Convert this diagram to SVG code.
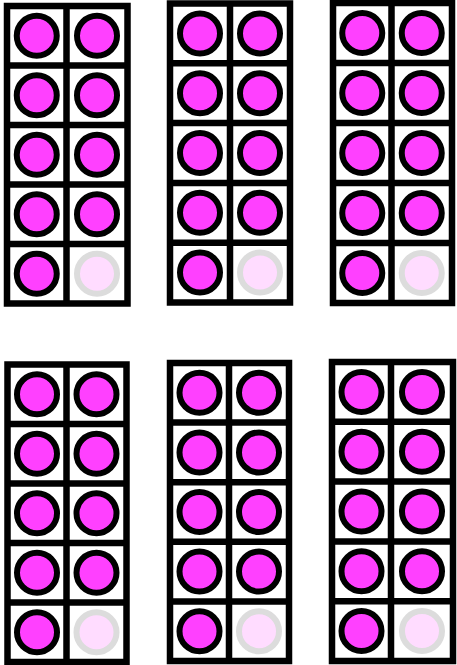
<svg xmlns="http://www.w3.org/2000/svg" width="457" height="665" viewBox="0 0 457 665">
<style>
.frame{fill:#ffffff;stroke:#000000;stroke-width:6.5}
.grid{stroke:#000000;stroke-width:6.5;fill:none}
.on{fill:#ff40ff;stroke:#000000;stroke-width:6}
.off{fill:#ffdcff;stroke:#dcdcdc;stroke-width:6}
circle{r:20px}
</style>
<rect width="457" height="665" fill="#ffffff"/>
<g id="frame1">
<rect class="frame" x="7" y="6" width="120.5" height="297.5"/>
<path class="grid" d="M66.5 6V303.5M7 65.5H127.5M7 125H127.5M7 184.5H127.5M7 244H127.5"/>
<circle class="on" cx="36.75" cy="35.75" r="20"/><circle class="on" cx="97" cy="35.75" r="20"/>
<circle class="on" cx="36.75" cy="95.25" r="20"/><circle class="on" cx="97" cy="95.25" r="20"/>
<circle class="on" cx="36.75" cy="154.75" r="20"/><circle class="on" cx="97" cy="154.75" r="20"/>
<circle class="on" cx="36.75" cy="214.25" r="20"/><circle class="on" cx="97" cy="214.25" r="20"/>
<circle class="on" cx="36.75" cy="273.75" r="20"/><circle class="off" cx="97" cy="273.75" r="20"/>
</g>
<g id="frame2">
<rect class="frame" x="170" y="3.5" width="120" height="299"/>
<path class="grid" d="M230 3.5V302.5M170 63.3H290M170 123.1H290M170 182.9H290M170 242.7H290"/>
<circle class="on" cx="200" cy="33.4" r="20"/><circle class="on" cx="260" cy="33.4" r="20"/>
<circle class="on" cx="200" cy="93.2" r="20"/><circle class="on" cx="260" cy="93.2" r="20"/>
<circle class="on" cx="200" cy="153" r="20"/><circle class="on" cx="260" cy="153" r="20"/>
<circle class="on" cx="200" cy="212.8" r="20"/><circle class="on" cx="260" cy="212.8" r="20"/>
<circle class="on" cx="200" cy="272.6" r="20"/><circle class="off" cx="260" cy="272.6" r="20"/>
</g>
<g id="frame3">
<rect class="frame" x="333" y="3" width="119" height="300"/>
<path class="grid" d="M391.5 3V303M333 63H452M333 123H452M333 183H452M333 243H452"/>
<circle class="on" cx="362.25" cy="33" r="20"/><circle class="on" cx="421.75" cy="33" r="20"/>
<circle class="on" cx="362.25" cy="93" r="20"/><circle class="on" cx="421.75" cy="93" r="20"/>
<circle class="on" cx="362.25" cy="153" r="20"/><circle class="on" cx="421.75" cy="153" r="20"/>
<circle class="on" cx="362.25" cy="213" r="20"/><circle class="on" cx="421.75" cy="213" r="20"/>
<circle class="on" cx="362.25" cy="273" r="20"/><circle class="off" cx="421.75" cy="273" r="20"/>
</g>
<g id="frame4">
<rect class="frame" x="7.5" y="364.5" width="119" height="297.5"/>
<path class="grid" d="M66.5 364.5V662M7.5 424H126.5M7.5 483.5H126.5M7.5 543H126.5M7.5 602.5H126.5"/>
<circle class="on" cx="37" cy="394.25" r="20"/><circle class="on" cx="96.5" cy="394.25" r="20"/>
<circle class="on" cx="37" cy="453.75" r="20"/><circle class="on" cx="96.5" cy="453.75" r="20"/>
<circle class="on" cx="37" cy="513.25" r="20"/><circle class="on" cx="96.5" cy="513.25" r="20"/>
<circle class="on" cx="37" cy="572.75" r="20"/><circle class="on" cx="96.5" cy="572.75" r="20"/>
<circle class="on" cx="37" cy="632.25" r="20"/><circle class="off" cx="96.5" cy="632.25" r="20"/>
</g>
<g id="frame5">
<rect class="frame" x="170" y="363" width="119" height="298"/>
<path class="grid" d="M229 363V661M170 422.6H289M170 482.2H289M170 541.8H289M170 601.4H289"/>
<circle class="on" cx="199.5" cy="392.8" r="20"/><circle class="on" cx="259" cy="392.8" r="20"/>
<circle class="on" cx="199.5" cy="452.4" r="20"/><circle class="on" cx="259" cy="452.4" r="20"/>
<circle class="on" cx="199.5" cy="512" r="20"/><circle class="on" cx="259" cy="512" r="20"/>
<circle class="on" cx="199.5" cy="571.6" r="20"/><circle class="on" cx="259" cy="571.6" r="20"/>
<circle class="on" cx="199.5" cy="631.2" r="20"/><circle class="off" cx="259" cy="631.2" r="20"/>
</g>
<g id="frame6">
<rect class="frame" x="332" y="362" width="121" height="299"/>
<path class="grid" d="M391 362V661M332 421.8H453M332 481.6H453M332 541.4H453M332 601.2H453"/>
<circle class="on" cx="361.5" cy="391.9" r="20"/><circle class="on" cx="422" cy="391.9" r="20"/>
<circle class="on" cx="361.5" cy="451.7" r="20"/><circle class="on" cx="422" cy="451.7" r="20"/>
<circle class="on" cx="361.5" cy="511.5" r="20"/><circle class="on" cx="422" cy="511.5" r="20"/>
<circle class="on" cx="361.5" cy="571.3" r="20"/><circle class="on" cx="422" cy="571.3" r="20"/>
<circle class="on" cx="361.5" cy="631.1" r="20"/><circle class="off" cx="422" cy="631.1" r="20"/>
</g>
<g id="connectors"></g>
</svg>
